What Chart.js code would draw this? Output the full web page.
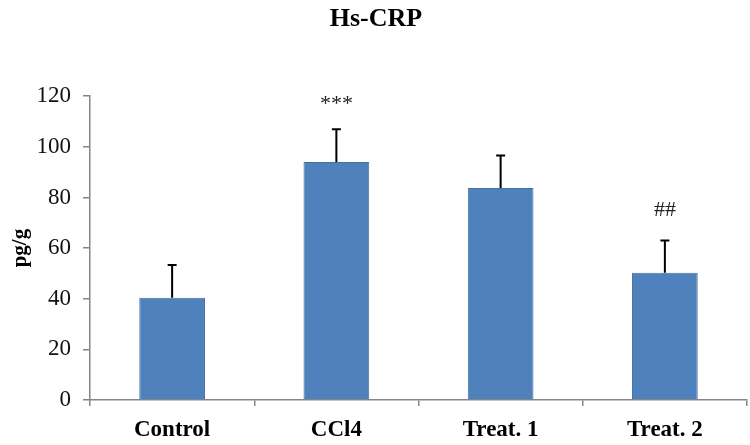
<!DOCTYPE html>
<html>
<head>
<meta charset="utf-8">
<script src="https://cdn.jsdelivr.net/npm/chart.js@4/dist/chart.umd.min.js"></script>
<style>
  html, body { margin: 0; padding: 0; background: #fff; }
  #wrap { width: 750px; height: 445px; }
</style>
</head>
<body>
<div id="wrap"><canvas id="crpChart"></canvas></div>
<script>
// Chart data
const groups = ['Control', 'CCl4', 'Treat. 1', 'Treat. 2'];
const means = [40.4, 94.0, 83.7, 50.3];
const errors = [12.9, 12.9, 12.9, 12.7];
const marks = ['', '***', '', '##'];
const yTicks = [0, 20, 40, 60, 80, 100, 120];

const serif = '"Liberation Serif", "Times New Roman", serif';
const axisGray = '#868686';

// Draws upward-only error bars with a cap
const errorBarPlugin = {
    id: 'errorBars',
    afterDatasetsDraw(chart) {
        const ctx = chart.ctx;
        const meta = chart.getDatasetMeta(0);
        const yScale = chart.scales.y;
        ctx.save();
        ctx.strokeStyle = '#000';
        ctx.lineWidth = 2;
        meta.data.forEach((bar, i) => {
            const x = bar.x;
            const yTop = yScale.getPixelForValue(means[i] + errors[i]);
            ctx.beginPath();
            ctx.moveTo(x, bar.y);
            ctx.lineTo(x, yTop);
            ctx.moveTo(x - 4.5, yTop);
            ctx.lineTo(x + 4.5, yTop);
            ctx.stroke();
        });
        ctx.restore();
    }
};

// Significance marks above the bars (asterisks sit high in the glyph box)
const marksPlugin = {
    id: 'sigMarks',
    afterDatasetsDraw(chart) {
        const ctx = chart.ctx;
        const meta = chart.getDatasetMeta(0);
        const yScale = chart.scales.y;
        ctx.save();
        ctx.fillStyle = '#222';
        ctx.font = '22px ' + serif;
        ctx.textAlign = 'center';
        ctx.textBaseline = 'middle';
        meta.data.forEach((bar, i) => {
            if (!marks[i]) return;
            const yTop = yScale.getPixelForValue(means[i] + errors[i]);
            const gap = marks[i].startsWith('*') ? 25 : 30;
            ctx.fillText(marks[i], bar.x, yTop - gap);
        });
        ctx.restore();
    }
};

new Chart(document.getElementById('crpChart'), {
    type: 'bar',
    data: {
        labels: groups,
        datasets: [{
            data: means,
            backgroundColor: '#4F81BD',
            borderColor: '#41719C',
            borderWidth: 1,
            categoryPercentage: 1.0,
            barPercentage: 0.4
        }]
    },
    plugins: [errorBarPlugin, marksPlugin],
    options: {
        responsive: true,
        maintainAspectRatio: false,
        animation: false,
        layout: {
            padding: { left: 5, right: 3, top: 0, bottom: 0 }
        },
        plugins: {
            legend: { display: false },
            tooltip: { enabled: false },
            title: {
                display: true,
                text: 'Hs-CRP',
                color: '#000',
                font: { family: serif, size: 26, weight: 'bold' },
                padding: { top: 4, bottom: 61 }
            }
        },
        scales: {
            y: {
                min: 0,
                max: 120,
                afterBuildTicks(axis) {
                    axis.ticks = yTicks.map(v => ({ value: v }));
                },
                afterFit(axis) {
                    axis.width = 85;
                },
                border: { color: axisGray, width: 1.5 },
                grid: {
                    drawOnChartArea: false,
                    color: axisGray,
                    tickLength: 7,
                    lineWidth: 1.5
                },
                ticks: {
                    color: '#111',
                    font: { family: serif, size: 23 },
                    padding: 12
                },
                title: {
                    display: true,
                    text: 'pg/g',
                    color: '#000',
                    font: { family: serif, size: 21, weight: 'bold' },
                    padding: { top: 3, bottom: 0 }
                }
            },
            x: {
                afterFit(axis) {
                    axis.height = 45;
                },
                border: { color: axisGray, width: 1.5 },
                grid: {
                    drawOnChartArea: false,
                    color: axisGray,
                    tickLength: 6,
                    lineWidth: 1.5
                },
                ticks: {
                    color: '#000',
                    font: { family: serif, size: 23, weight: 'bold' },
                    padding: 10
                }
            }
        }
    }
});
</script>
</body>
</html>
